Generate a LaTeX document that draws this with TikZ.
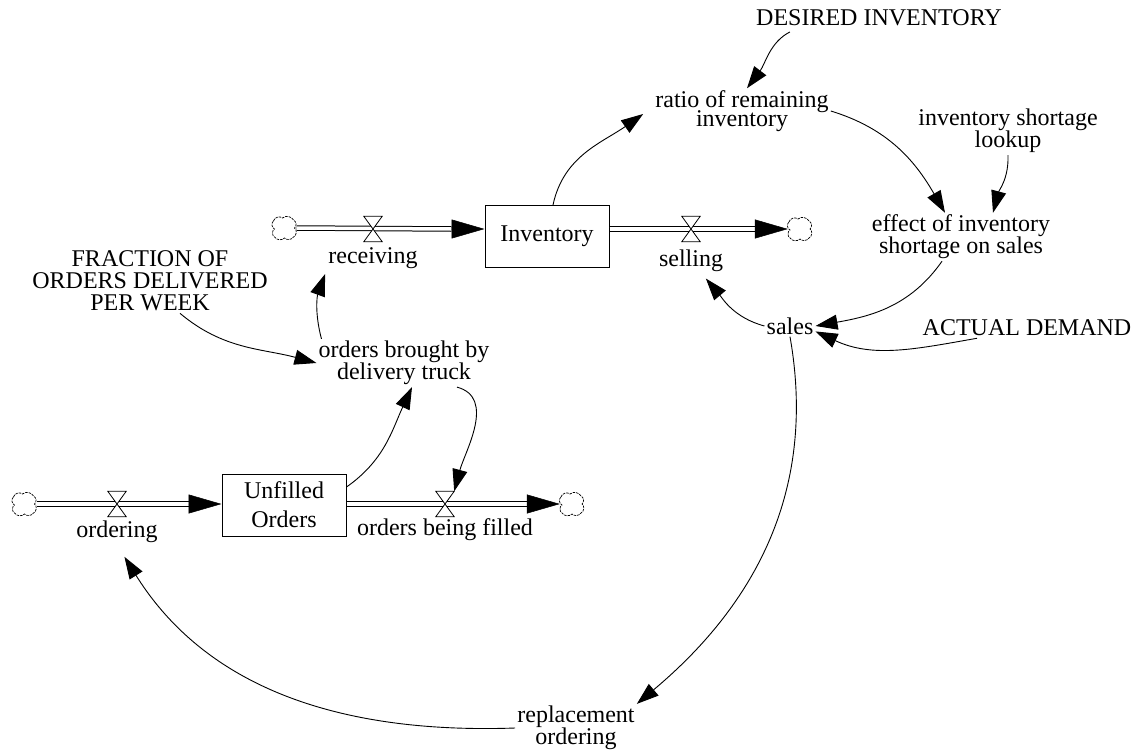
\documentclass[tikz,border=0pt]{standalone}
\usepackage{fontspec}
\setmainfont{Liberation Serif}
\usetikzlibrary{arrows.meta,positioning,calc}

\begin{document}
\begin{tikzpicture}[
    x=1pt, y=1pt,
    font=\fontsize{24}{22}\selectfont,
    var/.style={align=center, inner sep=2pt},
    stock/.style={rectangle, draw, line width=1pt, minimum width=124pt, minimum height=62pt, align=center},
    sink/.style={circle, inner sep=0pt, minimum size=24pt},
    cloudline/.style={line width=0.7pt, dash pattern=on 2.5pt off 1pt},
    valve/.style={rectangle, inner sep=0pt, minimum width=18pt, minimum height=25pt},
    pipe/.style={draw, double, double distance=3.5pt, line width=1pt},
    flowtip/.style={-{Triangle[length=33pt,width=19pt]}, line width=0.5pt},
    link/.style={-{Triangle[length=22pt,width=15pt]}, line width=0.9pt}
]
    \useasboundingbox (0,0) rectangle (1141,-755);

    % stocks, flows and clouds
    \node[stock] (inv) at (547,-236.5) {Inventory};
    \node[stock] (unf) at (284,-505) {Unfilled\\[7pt]Orders};

    \node[sink] (c1) at (284.5,-228) {};
    \node[valve] (rv) at (373,-229) {};
    \node[var, below=4pt of rv] (rcvl) {receiving};
    \node[valve] (sv) at (691,-229) {};
    \node[var, below=6pt of sv] (sell) {selling};
    \node[sink] (c2) at (800,-229) {};

    \node[sink] (c3) at (24.5,-504) {};
    \node[valve] (ov) at (117,-504) {};
    \node[var, below=2pt of ov] (ordl) {ordering};
    \node[valve] (fv) at (445,-504) {};
    \node[var, below=0pt of fv] (filll) {orders being filled};
    \node[sink] (c4) at (572,-504) {};

    \foreach \c in {c1,c2,c3,c4}
        \draw[cloudline] ($(\c)+(-11,7)$) to[bend left=60] ($(\c)+(-2,10)$) to[bend left=50] ($(\c)+(9,8)$)
            to[bend left=60] ($(\c)+(10,0)$) to[bend left=60] ($(\c)+(9,-9)$) to[bend left=50] ($(\c)+(0,-10)$)
            to[bend left=50] ($(\c)+(-10,-9)$) to[bend left=60] ($(\c)+(-10,-1)$) to[bend left=60] cycle;

    % auxiliaries and constants
    \node[var] (desired) at (879,-18) {DESIRED INVENTORY};
    \node[var] (ratio) at (742,-111) {ratio of remaining\\[-3pt]inventory};
    \node[var] (lookup) at (1008,-131) {inventory shortage\\lookup};
    \node[var] (effect) at (961,-237) {effect of inventory\\shortage on sales};
    \node[var] (sales) at (790,-326) {sales};
    \node[var] (demand) at (1027,-328) {ACTUAL DEMAND};
    \node[var] (frac) at (150,-281) {FRACTION OF\\ORDERS DELIVERED\\PER WEEK};
    \node[var] (brought) at (404,-363) {orders brought by\\delivery truck};
    \node[var] (repl) at (576,-728) {replacement\\ordering};

    % pipes
    \draw[pipe] (c1.east) -- ($(inv.west |- rv)+(-33,0)$);
    \draw[flowtip] ($(inv.west |- rv)+(-33,0)$) -- (inv.west |- rv);
    \draw[pipe] (inv.east |- sv) -- ($(c2.west)+(-33,0)$);
    \draw[flowtip] ($(c2.west)+(-33,0)$) -- (c2.west);
    \draw[pipe] (c3.east) -- ($(unf.west |- ov)+(-33,0)$);
    \draw[flowtip] ($(unf.west |- ov)+(-33,0)$) -- (unf.west |- ov);
    \draw[pipe] (unf.east |- fv) -- ($(c4.west)+(-33,0)$);
    \draw[flowtip] ($(c4.west)+(-33,0)$) -- (c4.west);

    \foreach \v in {rv,sv,ov,fv}
        \draw[line width=0.8pt, fill=white] (\v.north west) -- (\v.north east) -- (\v.south west) -- (\v.south east) -- cycle;

    % causal links
    \draw[link, shorten <=8pt] ([xshift=-82pt]desired.south) to[out=-153, in=53] ([xshift=5pt]ratio.north);
    \draw[link] ([xshift=6pt]inv.north) to[out=78, in=215] ([xshift=-10pt,yshift=-3pt]ratio.west);
    \draw[link] (ratio.east) to[out=-17, in=120] ([xshift=-16pt]effect.north);
    \draw[link] (lookup.south) to[out=-88, in=75] ([xshift=32pt]effect.north);
    \draw[link] ([xshift=-19pt]effect.south) to[out=-125, in=10] (sales.east);
    \draw[link] ([xshift=-50pt]demand.south) to[out=190, in=-25] (sales.-12);
    \draw[link, shorten >=6pt] (sales.west) to[out=165, in=-50] (sell);
    \draw[link] (sales.south) to[out=-80, in=40] (repl.north east);
    \draw[link, shorten >=14pt] (repl.west) to[out=182, in=-58] (ordl.south);
    \draw[link] ([xshift=30pt]frac.south) to[out=-40, in=165] (brought.west);
    \draw[link, shorten >=3pt] ([xshift=5pt]brought.north west) to[out=105, in=-110] (rcvl.south west);
    \draw[link] ([yshift=18pt]unf.east) to[out=35, in=-115] ([xshift=8pt]brought.south);
    \draw[link] ([xshift=53pt]brought.south) to[out=-15, in=75] (fv.north east);
\end{tikzpicture}
\end{document}
